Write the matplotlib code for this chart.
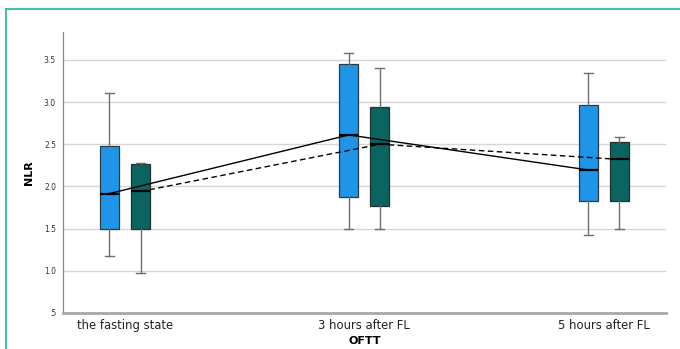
import matplotlib
matplotlib.use("Agg")
import matplotlib.pyplot as plt
from matplotlib.patches import Rectangle

categories = ['the fasting state', '3 hours after FL', '5 hours after FL']

# box statistics per group: [low whisker, Q1, median, Q3, high whisker]
group_a_low = [1.18, 1.49, 1.42]
group_a_q1 = [1.49, 1.87, 1.83]
group_a_med = [1.915, 2.61, 2.195]
group_a_q3 = [2.48, 3.455, 2.96]
group_a_high = [3.107, 3.58, 3.34]

group_b_low = [0.97, 1.50, 1.50]
group_b_q1 = [1.49, 1.765, 1.83]
group_b_med = [1.94, 2.50, 2.32]
group_b_q3 = [2.265, 2.94, 2.53]
group_b_high = [2.28, 3.40, 2.59]

yticks = [0.5, 1.0, 1.5, 2.0, 2.5, 3.0, 3.5]
ytick_labels = ['.5', '1.0', '1.5', '2.0', '2.5', '3.0', '3.5']

blue = '#1f95e8'
teal = '#0a6561'

fig = plt.figure(figsize=(6.8, 3.49), dpi=100)
ax = fig.add_axes([0.0926, 0.1032, 0.8864, 0.8051])

# teal frame round the figure
fig.patches.append(Rectangle((6 / 680, -0.1), 2, 1 - 9.5 / 349 + 0.1, transform=fig.transFigure,
                             fill=False, edgecolor='#3fc1aa', linewidth=1.5, zorder=0))


def stats(low, q1, med, q3, high):
    return [dict(whislo=a, q1=b, med=c, q3=d, whishi=e, fliers=[])
            for a, b, c, d, e in zip(low, q1, med, q3, high)]


pos = list(range(len(categories)))
off = 0.065
width = 0.079
pos_a = [p - off for p in pos]
pos_b = [p + off for p in pos]

common = dict(widths=width, patch_artist=True, capwidths=0.037, showfliers=False,
              whiskerprops=dict(color='#6e6e6e', linewidth=1),
              capprops=dict(color='#6e6e6e', linewidth=1),
              medianprops=dict(color='black', linewidth=1.6))

ba = ax.bxp(stats(group_a_low, group_a_q1, group_a_med, group_a_q3, group_a_high),
            positions=pos_a, **common)
bb = ax.bxp(stats(group_b_low, group_b_q1, group_b_med, group_b_q3, group_b_high),
            positions=pos_b, **common)
for b in ba['boxes']:
    b.set_facecolor(blue)
    b.set_edgecolor('#2d3a40')
    b.set_linewidth(0.9)
for b in bb['boxes']:
    b.set_facecolor(teal)
    b.set_edgecolor('#24302f')
    b.set_linewidth(0.9)

ax.plot(pos_a, group_a_med, color='black', linewidth=1.0, zorder=5)
ax.plot(pos_b, group_b_med, color='black', linewidth=1.0, linestyle=(0, (4, 2.5)), zorder=5)

ax.set_xlim(-0.259, 2.259)
ax.set_ylim(0.5, 3.83)
ax.set_xticks(pos)
ax.set_xticklabels(categories, fontsize=8.4, color='#222222')
ax.set_yticks(yticks)
ax.set_yticklabels(ytick_labels, fontsize=5.5, color='#333333')
ax.tick_params(axis='both', length=0, pad=5)
ax.tick_params(axis='x', pad=4)
ax.grid(axis='y', color='#d6d6d6', linewidth=1)
ax.set_axisbelow(True)
for s in ['top', 'right']:
    ax.spines[s].set_visible(False)
ax.spines['left'].set_color('#8a8a8a')
ax.spines['left'].set_linewidth(0.9)
ax.spines['bottom'].set_color('#a8a8a8')
ax.spines['bottom'].set_linewidth(2)

ax.set_ylabel('NLR', fontsize=8, fontweight='bold', labelpad=7)
ax.set_xlabel('OFTT', fontsize=8, fontweight='bold', labelpad=3)

fig.savefig('out.png', dpi=100)
